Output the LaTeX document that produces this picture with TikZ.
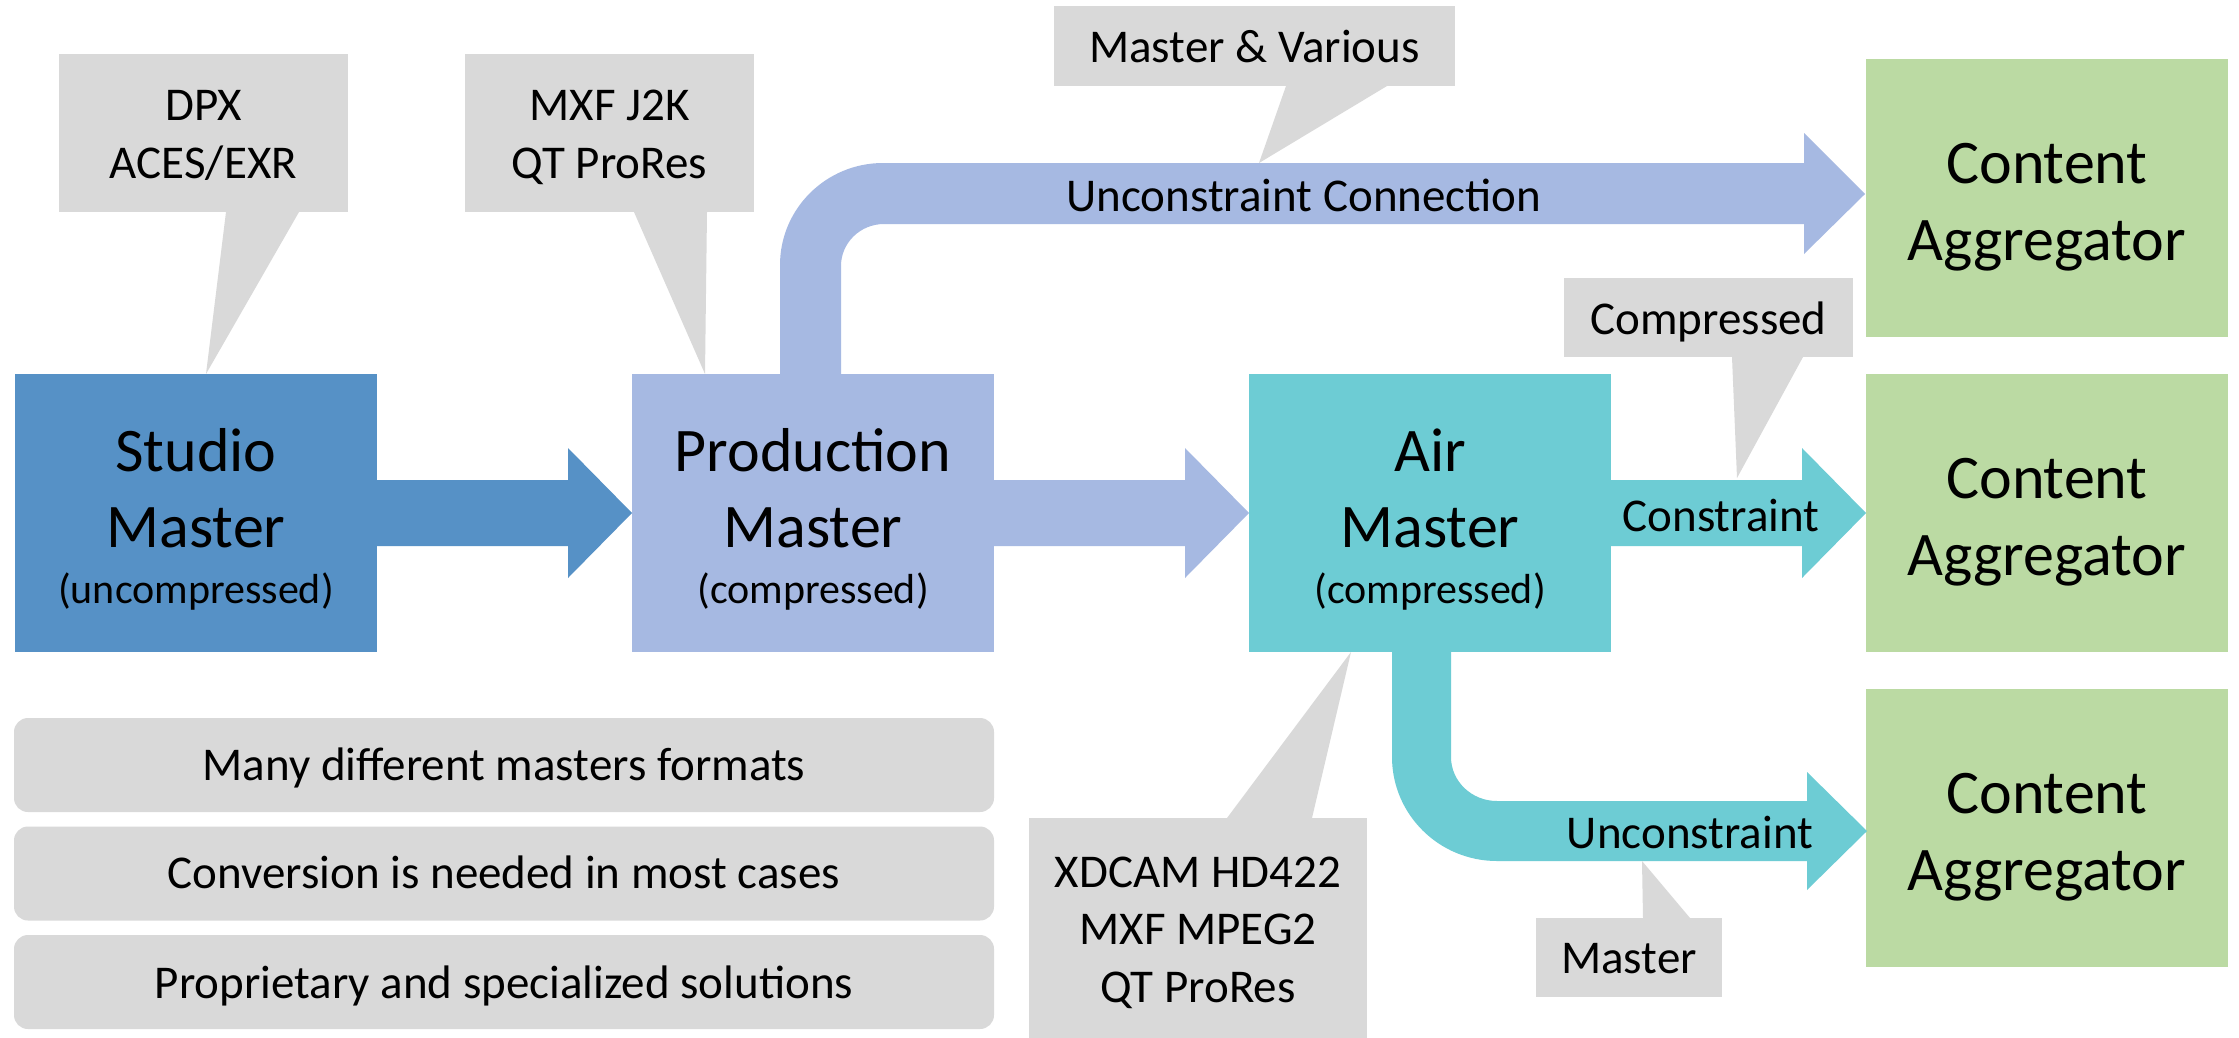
\documentclass[tikz,border=0pt]{standalone}
\usepackage{fontspec}
\setmainfont{Carlito}
\usetikzlibrary{calc}

\definecolor{studiocol}{HTML}{5691C6}
\definecolor{prodcol}{HTML}{A6B9E2}
\definecolor{aircol}{HTML}{6DCCD4}
\definecolor{aggcol}{HTML}{BBDAA3}
\definecolor{notecol}{HTML}{D9D9D9}

\tikzset{
  stage/.style={rectangle, inner sep=0pt, outer sep=0pt, minimum width=362pt, minimum height=278pt},
  headtext/.style={anchor=base, inner sep=0pt, font=\fontsize{62}{74}\selectfont},
  subtext/.style={anchor=base, inner sep=0pt, font=\fontsize{42}{50}\selectfont},
  lbltext/.style={anchor=base, inner sep=0pt, font=\fontsize{47}{57}\selectfont},
  note/.style={rectangle, fill=notecol, inner sep=0pt, outer sep=0pt},
  fact/.style={rectangle, rounded corners=14pt, fill=notecol, inner sep=0pt, outer sep=0pt,
               minimum width=980pt, minimum height=94pt},
}

% horizontal block arrow from #1 to the tip #2, filled with colour #3
\newcommand\blockarrow[3]{%
  \fill[#3] ($(#1)+(0,-33)$) -- ($(#2)+(-64,-33)$) -- ($(#2)+(-64,-65)$) -- (#2)
    -- ($(#2)+(-64,65)$) -- ($(#2)+(-64,33)$) -- ($(#1)+(0,33)$) -- cycle;}

\begin{document}
\begin{tikzpicture}[x=1pt, y=-1pt]
\fill[white] (0,0) rectangle (2239,1037);
\useasboundingbox (0,0) rectangle (2239,1037);

% ---- stages ----
\node[stage, fill=studiocol] (studio) at (196,513) {};
\node[stage, fill=prodcol]   (prod)   at (813,513) {};
\node[stage, fill=aircol]    (air)    at (1430,513) {};
\node[stage, fill=aggcol]    (ca1)    at (2047,198) {};
\node[stage, fill=aggcol]    (ca2)    at (2047,513) {};
\node[stage, fill=aggcol]    (ca3)    at (2047,828) {};

% ---- straight flows ----
\blockarrow{studio.east}{prod.west}{studiocol}
\blockarrow{prod.east}{air.west}{prodcol}
\blockarrow{air.east}{ca2.west}{aircol}

% ---- bent flow: Production Master up and over to the first aggregator ----
\begin{scope}[shift={(prod.north)}]
  \fill[prodcol] (-33,3) -- (-33,-109)
    arc[start angle=180, end angle=90, x radius=103pt, y radius=102pt]
    -- (991,-211) -- (991,-241) -- (1052,-180) -- (991,-120) -- (991,-150) -- (71,-150)
    arc[start angle=90, end angle=180, x radius=43pt, y radius=42pt]
    -- (28,3) -- cycle;
  \coordinate (mvtip) at (446,-211);
\end{scope}

% ---- bent flow: Air Master down and over to the third aggregator ----
\begin{scope}[shift={(air.south)}]
  \fill[aircol] (-38,0) -- (-38,105)
    arc[start angle=180, end angle=270, x radius=105pt, y radius=104pt]
    -- (377,209) -- (377,238) -- (437,179) -- (377,120) -- (377,149) -- (67,149)
    arc[start angle=270, end angle=180, x radius=46pt, y radius=44pt]
    -- (21,0) -- cycle;
  \coordinate (msttip) at (212,209);
\end{scope}

% ---- callouts ----
\node[note, minimum width=289pt, minimum height=158pt] (dpx)   at (203.5,133) {};
\node[note, minimum width=289pt, minimum height=158pt] (mxf)   at (609.5,133) {};
\node[note, minimum width=401pt, minimum height=80pt]  (mv)    at (1254.5,46) {};
\node[note, minimum width=289pt, minimum height=79pt]  (comp)  at (1708.5,317.5) {};
\node[note, minimum width=338pt, minimum height=224pt] (xdcam) at (1198,930) {};
\node[note, minimum width=186pt, minimum height=79pt]  (mst)   at (1629,957.5) {};

\fill[notecol] ($(dpx.south west)+(167,0)$) -- ($(studio.north)+(10,0)$) -- ($(dpx.south west)+(240,0)$) -- cycle;
\fill[notecol] ($(mxf.south west)+(169,0)$) -- ($(prod.north)+(-108,0)$) -- ($(mxf.south west)+(242,0)$) -- cycle;
\fill[notecol] ($(mv.south west)+(232,0)$) -- (mvtip) -- ($(mv.south west)+(333,0)$) -- cycle;
\fill[notecol] ($(comp.south west)+(168,0)$) -- ($(air.east)+(126,-35)$) -- ($(comp.south west)+(239,0)$) -- cycle;
\fill[notecol] ($(xdcam.north west)+(198,0)$) -- ($(air.south)+(-79,0)$) -- ($(xdcam.north west)+(283,0)$) -- cycle;
\fill[notecol] ($(mst.north west)+(107,0)$) -- (msttip) -- ($(mst.north west)+(154,0)$) -- cycle;

% ---- facts ----
\node[fact] (f1) at (504,765) {};
\node[fact] (f2) at (504,873.5) {};
\node[fact] (f3) at (504,982) {};

% ---- texts of the stages ----
\node[headtext] (studio-a) at ($(studio.center)+(0,-42)$) {Studio};
\node[headtext] (studio-b) at ($(studio.center)+(0,34)$) {Master};
\node[subtext]  (studio-c) at ($(studio.center)+(0,90)$) {(uncompressed)};
\node[headtext] (prod-a) at ($(prod.center)+(0,-42)$) {Production};
\node[headtext] (prod-b) at ($(prod.center)+(0,34)$) {Master};
\node[subtext]  (prod-c) at ($(prod.center)+(0,90)$) {(compressed)};
\node[headtext] (air-a) at ($(air.center)+(0,-42)$) {Air};
\node[headtext] (air-b) at ($(air.center)+(0,34)$) {Master};
\node[subtext]  (air-c) at ($(air.center)+(0,90)$) {(compressed)};
\foreach \c in {ca1,ca2,ca3}{
  \node[headtext] (\c-a) at ($(\c.center)+(0,-15)$) {Content};
  \node[headtext] (\c-b) at ($(\c.center)+(0,62)$) {Aggregator};
}

% ---- texts of the callouts ----
\node[lbltext] (dpx-a) at ($(dpx.center)+(0,-12.5)$) {DPX};
\node[lbltext] (dpx-b) at ($(dpx.center)+(0,45.6)$) {ACES/EXR};
\node[lbltext] (mxf-a) at ($(mxf.center)+(0,-12.5)$) {MXF J2K};
\node[lbltext] (mxf-b) at ($(mxf.center)+(0,45.6)$) {QT ProRes};
\node[lbltext] (mv-a) at ($(mv.center)+(0,16)$) {Master \& Various};
\node[lbltext] (comp-a) at ($(comp.center)+(0,16.5)$) {Compressed};
\node[lbltext] (xd-a) at (1198,887) {XDCAM HD422};
\node[lbltext] (xd-b) at (1198,944.5) {MXF MPEG2};
\node[lbltext] (xd-c) at (1198,1002) {QT ProRes};
\node[lbltext] (mst-a) at ($(mst.center)+(0,15.5)$) {Master};

% ---- texts on the flows ----
\node[lbltext] (flow-a) at (1304,211) {Unconstraint Connection};
\node[lbltext] (flow-b) at (1721,531) {Constraint};
\node[lbltext] (flow-c) at (1690,848) {Unconstraint};

% ---- texts of the facts ----
\node[lbltext] (f1-a) at ($(f1.center)+(0,15)$) {Many different masters formats};
\node[lbltext] (f2-a) at ($(f2.center)+(0,14.5)$) {Conversion is needed in most cases};
\node[lbltext] (f3-a) at ($(f3.center)+(0,16)$) {Proprietary and specialized solutions};
\end{tikzpicture}
\end{document}
